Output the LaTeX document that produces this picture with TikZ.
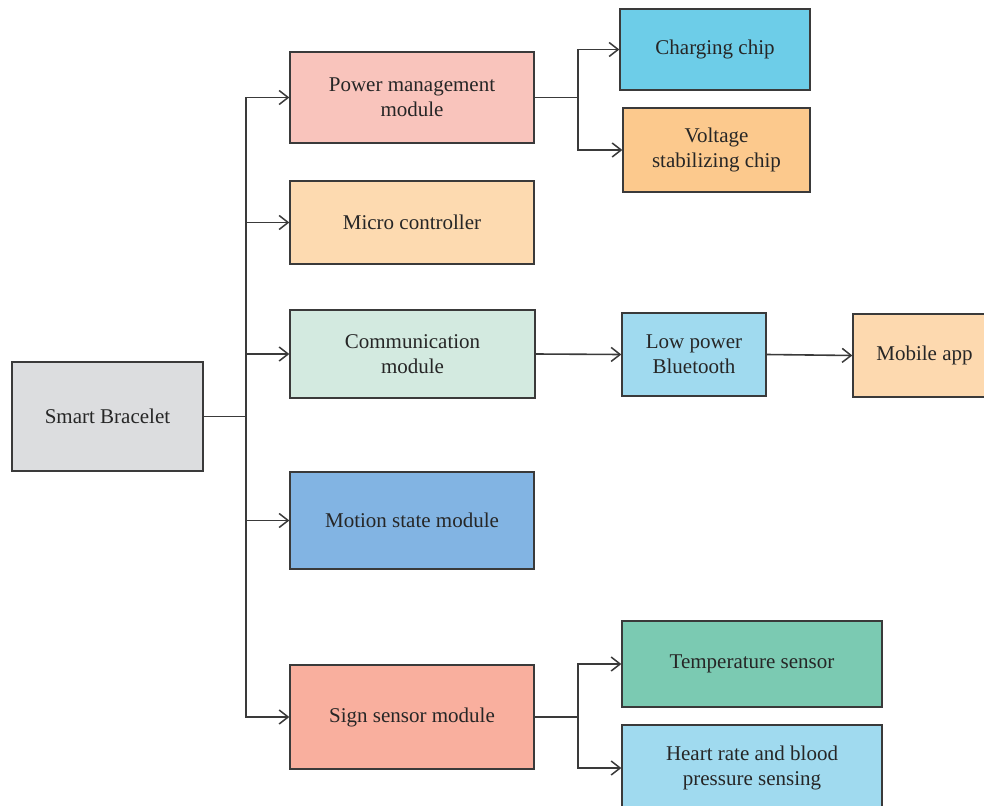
\documentclass[tikz,border=0pt]{standalone}
\usepackage{fontspec}
\setmainfont{Liberation Serif}
\usetikzlibrary{arrows.meta}
\definecolor{cbord}{HTML}{3A3A3A}
\definecolor{cgray}{HTML}{DCDDDF}
\definecolor{cpm}{HTML}{F9C4BC}
\definecolor{cmc}{HTML}{FDDAB0}
\definecolor{ccm}{HTML}{D3EAE0}
\definecolor{cms}{HTML}{82B4E3}
\definecolor{css}{HTML}{F9AF9E}
\definecolor{ccc}{HTML}{6DCDE8}
\definecolor{cvs}{HTML}{FCC98D}
\definecolor{clb}{HTML}{A0DAEF}
\definecolor{cma}{HTML}{FDD9AF}
\definecolor{cts}{HTML}{7BCAB2}
\tikzset{
  box/.style={draw=cbord, line width=1.3pt, inner sep=0pt, align=center,
    font=\fontsize{21}{25}\selectfont, text=black!85},
  arr/.style={draw=cbord, line width=1.6pt, -{Straight Barb[length=9pt,width=14pt,line width=1.5pt]}},
  ln/.style={draw=cbord, line width=1.6pt}
}
\begin{document}
\begin{tikzpicture}[x=1pt,y=-1pt]
\useasboundingbox (0,0) rectangle (984,805);
\fill[white] (0,0) rectangle (984,805);
% boxes: center, width, height
\node[box, fill=cgray, minimum width=191pt, minimum height=109pt] (sb) at (107.5,416.5) {Smart Bracelet};
\node[box, fill=cpm, minimum width=244pt, minimum height=91pt] (pm) at (412,97.5) {Power management\\module};
\node[box, fill=cmc, minimum width=244pt, minimum height=83pt] (mc) at (412,222.5) {Micro controller};
\node[box, fill=ccm, minimum width=245pt, minimum height=88pt] (cm) at (412.5,354) {Communication\\module};
\node[box, fill=cms, minimum width=244pt, minimum height=97pt] (ms) at (412,520.5) {Motion state module};
\node[box, fill=css, minimum width=244pt, minimum height=104pt] (ss) at (412,717) {Sign sensor module};
\node[box, fill=ccc, minimum width=190pt, minimum height=81pt] (cc) at (715,49.5) {Charging chip};
\node[box, fill=cvs, minimum width=187pt, minimum height=84pt] (vs) at (716.5,150) {Voltage\\stabilizing chip};
\node[box, fill=clb, minimum width=144pt, minimum height=83pt] (lb) at (694,354.5) {Low power\\Bluetooth};
\node[box, fill=cma, minimum width=143pt, minimum height=83pt] (ma) at (924.5,355.5) {Mobile app};
\node[box, fill=cts, minimum width=260pt, minimum height=86pt] (ts) at (752,664) {Temperature sensor};
\node[box, fill=clb, minimum width=260pt, minimum height=86pt] (hr) at (752,768) {Heart rate and blood\\pressure sensing};
% junctions
\coordinate (j1) at (246,416.5);
\coordinate (j2) at (578,97.5);
\coordinate (j3) at (578,717);
% trunk
\draw[ln] (sb.east) -- (j1);
\draw[arr] (j1) |- (pm.west);
\draw[arr] (j1) |- (mc.west);
\draw[arr] (j1) |- (cm.west);
\draw[arr] (j1) |- (ms.west);
\draw[arr] (j1) |- (ss.west);
% power
\draw[ln] (pm.east) -- (j2);
\draw[arr] (j2) |- (cc.west);
\draw[arr] (j2) |- (vs.west);
% comm
\draw[arr] (cm.east) -- (lb.west);
\draw[arr] (lb.east) -- (ma.west);
% sign
\draw[ln] (ss.east) -- (j3);
\draw[arr] (j3) |- (ts.west);
\draw[arr] (j3) |- (hr.west);
\end{tikzpicture}
\end{document}
